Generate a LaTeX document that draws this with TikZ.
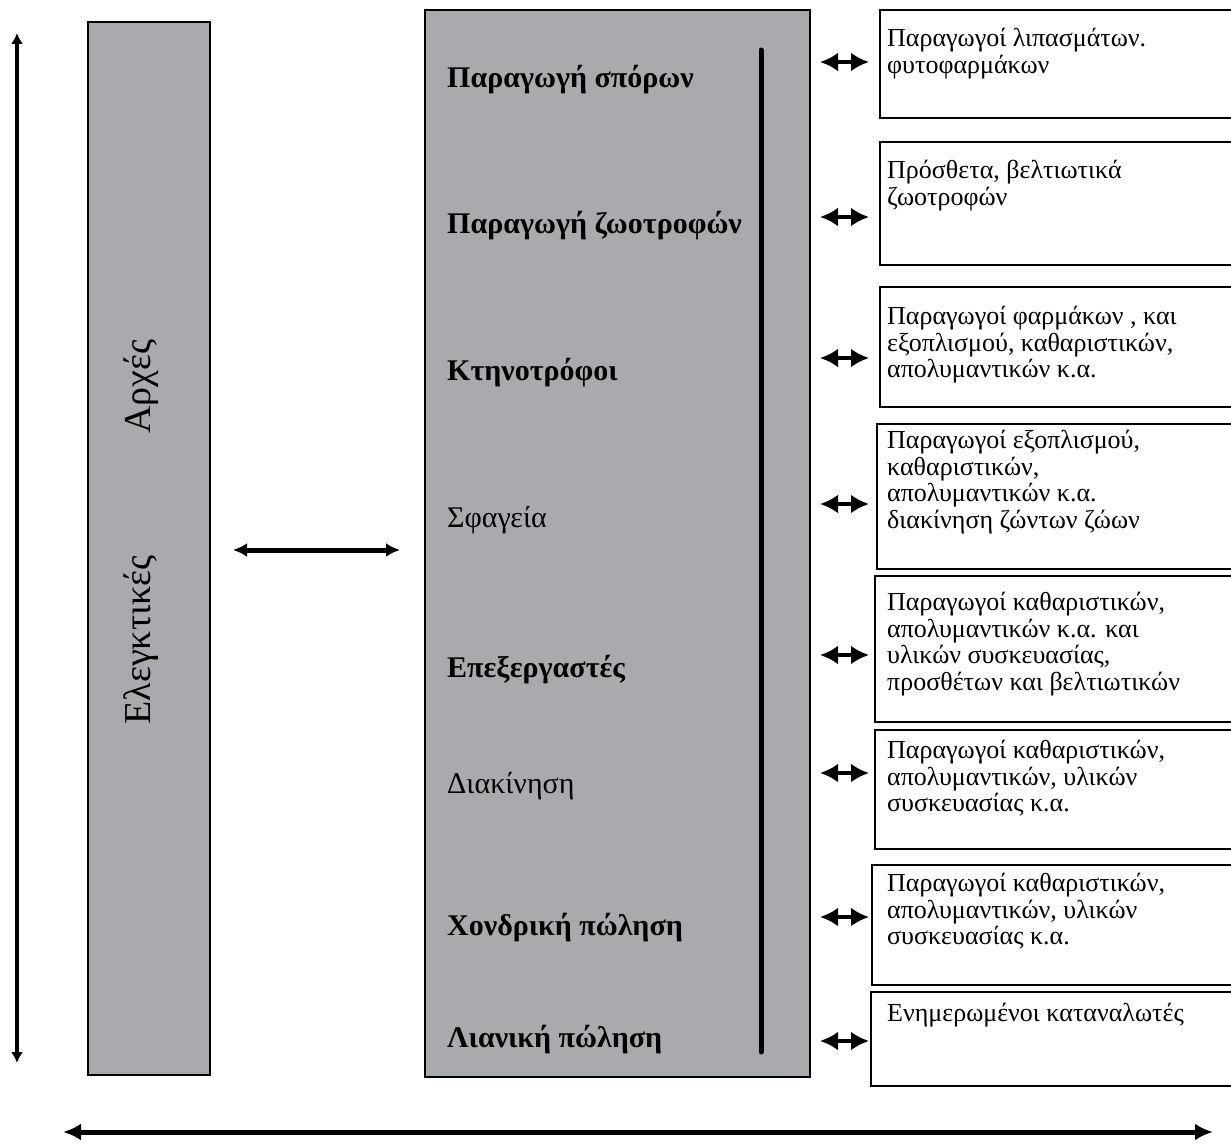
\documentclass[tikz,border=0pt]{standalone}
\usepackage{fontspec}
\setmainfont{Liberation Serif}
\usetikzlibrary{arrows.meta,positioning}
\definecolor{panelgray}{RGB}{168,170,174}
\tikzstyle{panel}=[draw=black,line width=2.2pt,fill=panelgray,anchor=north west,outer sep=0pt,inner sep=0pt]
\tikzstyle{stage}=[anchor=base west,inner sep=0pt,font=\fontsize{30}{30}\selectfont\bfseries]
\tikzstyle{softstage}=[anchor=base west,inner sep=0pt,font=\fontsize{30}{30}\selectfont]
\tikzstyle{supplier}=[draw=black,line width=1.8pt,anchor=north west,outer sep=0pt,inner sep=0pt]
\tikzstyle{suppliertext}=[anchor=north west,inner sep=0pt,align=left,font=\fontsize{26}{26.5}\selectfont]
\tikzstyle{link}=[line width=4pt,{Latex[length=18pt,width=19pt]}-{Latex[length=18pt,width=19pt]}]

\begin{document}
\begin{tikzpicture}[x=1pt,y=-1pt]
    \useasboundingbox (0,0) rectangle (1231,1145);
    % The two grey columns
    \node[panel,minimum width=122,minimum height=1053] (auth) at (88,22) {};
    \node[panel,minimum width=385,minimum height=1067] (chain) at (425,10) {};
    \node[rotate=90,inner sep=0pt,font=\fontsize{38}{38}\selectfont] (authtxt) at (141,532)
        {Ελεγκτικές\hspace{3.2em}Αρχές};
    % Stages of the chain
    \foreach \y/\name/\txt in {88/seed/{Παραγωγή σπόρων}, 233/feed/{Παραγωγή ζωοτροφών},
                               380/farm/{Κτηνοτρόφοι}, 677/proc/{Επεξεργαστές},
                               935/whole/{Χονδρική πώληση}, 1047/retail/{Λιανική πώληση}}
        \node[stage] (\name) at (447,\y) {\txt};
    \node[softstage] (slaught) at (447,527) {Σφαγεία};
    \node[softstage] (distr) at (447,793) {Διακίνηση};
    \coordinate (ctop) at (761,50);
    \coordinate (cbot) at (761,1052);
    \draw[line width=5pt,line cap=round] (ctop) -- (cbot);
    % Boxes of the suppliers
    \foreach \name/\x/\y/\h in {r1/880/10/108, r2/880/142/123, r3/880/287/120, r4/877/424/145,
                               r5/875/576/146, r6/875/730/119, r7/872/865/120, r8/871/992/94}
        \node[supplier,minimum width={1240-\x},minimum height=\h] (\name) at (\x,\y) {};
    \node[suppliertext] (t1) at (887,28) {Παραγωγοί λιπασμάτων.\\φυτοφαρμάκων};
    \node[suppliertext] (t2) at (887,160) {Πρόσθετα, βελτιωτικά\\ζωοτροφών};
    \node[suppliertext] (t3) at (887,306) {Παραγωγοί φαρμάκων , και\\εξοπλισμού, καθαριστικών,\\απολυμαντικών κ.α.};
    \node[suppliertext] (t4) at (887,430) {Παραγωγοί εξοπλισμού,\\καθαριστικών,\\απολυμαντικών κ.α.\\διακίνηση ζώντων ζώων};
    \node[suppliertext] (t5) at (887,592) {Παραγωγοί καθαριστικών,\\απολυμαντικών κ.α. και\\υλικών συσκευασίας,\\προσθέτων και βελτιωτικών};
    \node[suppliertext] (t6) at (887,740) {Παραγωγοί καθαριστικών,\\απολυμαντικών, υλικών\\συσκευασίας κ.α.};
    \node[suppliertext] (t7) at (887,873) {Παραγωγοί καθαριστικών,\\απολυμαντικών, υλικών\\συσκευασίας κ.α.};
    \node[suppliertext] (t8) at (887,1003) {Ενημερωμένοι καταναλωτές};
    % Small arrows between chain and suppliers
    \foreach \i/\y in {1/62, 2/217, 3/358, 4/504, 5/655, 6/773, 7/917, 8/1041} {
        \coordinate (al\i) at (820,\y);
        \coordinate (ar\i) at (869,\y);
        \draw[link] (al\i) -- (ar\i);
    }
    % Long arrows
    \coordinate (ctl) at (233,550);
    \coordinate (ctr) at (400,550);
    \draw[line width=5pt,{Latex[length=14pt,width=14pt]}-{Latex[length=14pt,width=14pt]}] (ctl) -- (ctr);
    \coordinate (vtop) at (17,33);
    \coordinate (vbot) at (17,1063);
    \draw[line width=3.5pt,{Latex[length=11pt,width=12pt]}-{Latex[length=11pt,width=12pt]}] (vtop) -- (vbot);
    \coordinate (hl) at (63,1132);
    \coordinate (hr) at (1213,1132);
    \draw[line width=5pt,{Latex[length=18pt,width=17pt]}-{Latex[length=18pt,width=17pt]}] (hl) -- (hr);
\end{tikzpicture}
\end{document}
